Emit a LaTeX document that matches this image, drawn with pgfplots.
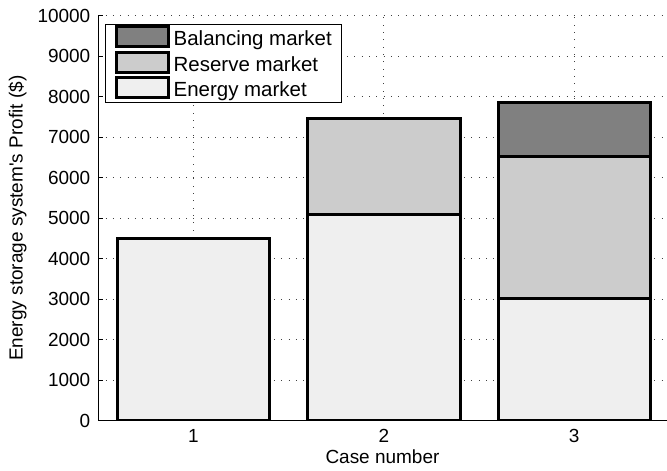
\documentclass[border=0pt]{standalone}
\usepackage{pgfplots}
\pgfplotsset{compat=1.18}
\usepackage{fontspec}
\setmainfont{Liberation Sans}

\definecolor{balcol}{gray}{0.5}
\definecolor{rescol}{gray}{0.8}
\definecolor{enecol}{gray}{0.937}

\begin{document}
\fontsize{19}{23}\selectfont
\begin{tikzpicture}
	\begin{axis}[
		ybar stacked,
		bar width=0.8,
		scale only axis,
		width=567bp,
		height=404bp,
		xmin=0.5,
		xmax=3.485,
		ymin=0,
		ymax=10000,
		xtick={1,2,3},
		ytick={0,1000,...,10000},
		scaled y ticks=false,
		/pgf/number format/1000 sep={},
		/pgf/number format/assume math mode=true,
		axis lines*=left,
		axis line style={line width=0.8bp},
		tick align=inside,
		major tick length=5bp,
		tick style={black, line width=0.8bp},
		xmajorgrids,
		ymajorgrids,
		major grid style={black!75, line width=0.8bp, dash pattern=on 0.8bp off 6.5bp},
		xlabel={Case number},
		ylabel={Energy storage system\textquotesingle s Profit (\$)},
		xlabel style={yshift=5bp, inner ysep=6bp},
		xticklabel style={yshift=-2bp},
		yticklabel style={xshift=-1.5bp, inner ysep=9bp},
		ylabel style={yshift=-4bp, inner ysep=8.5bp},
		reverse legend,
		legend cell align=left,
		legend style={
			at={(axis description cs:0.012,0.98)},
			anchor=north west,
			draw=black,
			line width=0.8bp,
			row sep=0bp,
			inner xsep=7.5bp,
			inner ysep=1bp,
			font=\fontsize{20.5}{24}\selectfont,
			nodes={inner ysep=2bp},
		},
		legend image code/.code={
			\path (-1.5bp,0bp) (54bp,0bp);
			\draw[#1, line width=3bp] (0bp,-7bp) rectangle (52bp,13bp);
		},
	]
		\addplot[fill=enecol, draw=black, line width=3bp] coordinates{
			(1, 4500) (2, 5080) (3, 3020)
		};
		\addlegendentry{Energy market}
		\addplot[fill=rescol, draw=black, line width=3bp] coordinates{
			(1, 0) (2, 2370) (3, 3500)
		};
		\addlegendentry{Reserve market}
		\addplot[fill=balcol, draw=black, line width=3bp] coordinates{
			(1, 0) (2, 0) (3, 1330)
		};
		\addlegendentry{Balancing market}
	\end{axis}
\end{tikzpicture}
\end{document}
